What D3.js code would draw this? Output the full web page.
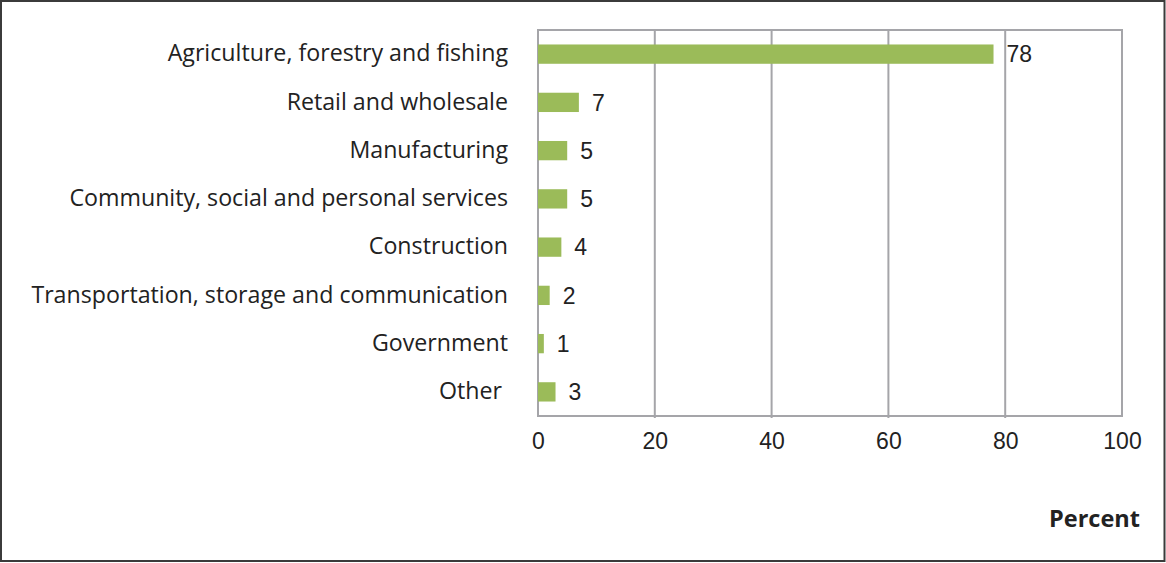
<!DOCTYPE html>
<html>
<head>
<meta charset="utf-8">
<script src="https://cdn.jsdelivr.net/npm/d3@7"></script>
<style>
  html, body { margin: 0; padding: 0; background: #fff; }
  svg { display: block; }
</style>
</head>
<body>
<svg id="chart" width="1166" height="563"></svg>
<script>
// Employment share by sector (percent)
const categories = [
  "Agriculture, forestry and fishing",
  "Retail and wholesale",
  "Manufacturing",
  "Community, social and personal services",
  "Construction",
  "Transportation, storage and communication",
  "Government",
  "Other "
];
const values = [78, 7, 5, 5, 4, 2, 1, 3];
const xTicks = [0, 20, 40, 60, 80, 100];
const axisTitle = "Percent";

const W = 1166, H = 563;
const plot = { left: 538, right: 1122, top: 30, bottom: 416 };

const svg = d3.select("#chart");

// outer frame
svg.append("rect")
  .attr("x", 1).attr("y", 1)
  .attr("width", W - 2.5).attr("height", H - 3)
  .attr("fill", "none")
  .attr("stroke", "#3b3b3b")
  .attr("stroke-width", 2);

const x = d3.scaleLinear().domain([0, 100]).range([plot.left, plot.right]);
const y = d3.scaleBand().domain(categories).range([plot.top, plot.bottom]).paddingInner(0.6).paddingOuter(0.3);

const gridColor = "#a5a5a9";

// vertical gridlines
svg.append("g")
  .selectAll("line")
  .data(xTicks.slice(1, -1))
  .join("line")
  .attr("x1", d => x(d)).attr("x2", d => x(d))
  .attr("y1", plot.top).attr("y2", plot.bottom + 2)
  .attr("stroke", gridColor)
  .attr("stroke-width", 2);

// plot border
svg.append("rect")
  .attr("x", plot.left).attr("y", plot.top)
  .attr("width", plot.right - plot.left)
  .attr("height", plot.bottom - plot.top)
  .attr("fill", "none")
  .attr("stroke", gridColor)
  .attr("stroke-width", 2);

// x axis tick labels
const xAxis = d3.axisBottom(x).tickValues(xTicks).tickSize(0).tickPadding(17);
const gx = svg.append("g")
  .attr("transform", `translate(0,${plot.bottom})`)
  .call(xAxis);
gx.select(".domain").remove();
gx.selectAll("text")
  .attr("font-family", "Liberation Sans, Arial, sans-serif")
  .attr("font-size", 23)
  .attr("fill", "#222")
  .attr("dy", "0.71em");

// bars
svg.append("g")
  .selectAll("rect")
  .data(values)
  .join("rect")
  .attr("x", x(0))
  .attr("y", (d, i) => y(categories[i]))
  .attr("width", d => x(d) - x(0))
  .attr("height", y.bandwidth())
  .attr("fill", "#9bbb59");

// value labels
svg.append("g")
  .selectAll("text")
  .data(values)
  .join("text")
  .attr("x", d => x(d) + 13)
  .attr("y", (d, i) => y(categories[i]) + y.bandwidth() / 2)
  .attr("dy", "0.36em")
  .attr("font-family", "Liberation Sans, Arial, sans-serif")
  .attr("font-size", 23)
  .attr("fill", "#222")
  .text(d => d);

// category labels (whitespace kept as written)
svg.append("g")
  .selectAll("text")
  .data(categories)
  .join("text")
  .attr("x", 508)
  .attr("y", d => y(d) + y.bandwidth() / 2 - 1)
  .attr("dy", "0.36em")
  .attr("text-anchor", "end")
  .attr("font-family", "Open Sans, sans-serif")
  .attr("font-size", 23.2)
  .attr("fill", "#222")
  .style("white-space", "pre")
  .text(d => d);

// axis title
svg.append("text")
  .attr("x", 1140)
  .attr("y", 527)
  .attr("text-anchor", "end")
  .attr("font-family", "Open Sans, sans-serif")
  .attr("font-weight", "bold")
  .attr("font-size", 23.5)
  .attr("fill", "#222")
  .text(axisTitle);
</script>
</body>
</html>
